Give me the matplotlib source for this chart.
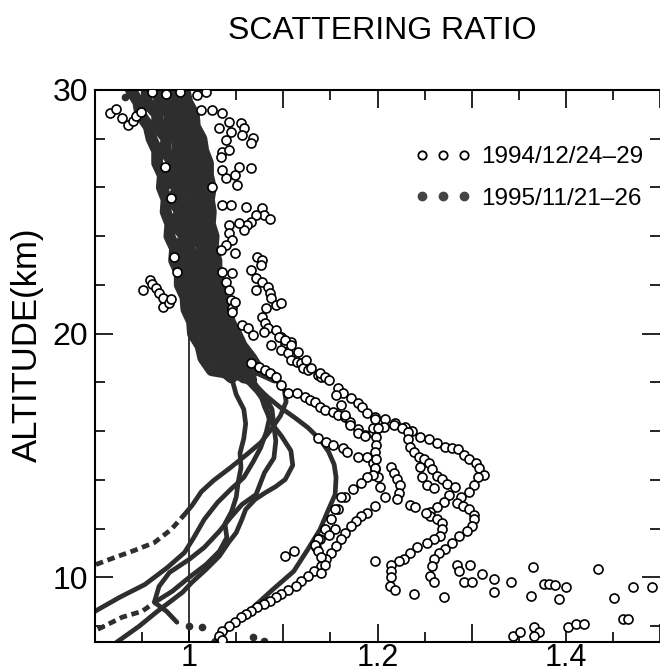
import numpy as np
import matplotlib
matplotlib.use('Agg')
import matplotlib.pyplot as plt
from matplotlib.lines import Line2D
from matplotlib.ticker import MultipleLocator, FuncFormatter

plt.rcParams['font.family'] = ['Liberation Sans', 'DejaVu Sans']

# ---- 1995/11/21-26 (filled dots): lower part of each night, (scattering ratio, km)
p1 = [(0.901, 10.53), (0.921, 10.82), (0.942, 11.11), (0.963, 11.43), (0.981, 11.97),
      (0.995, 12.58), (1.003, 12.95), (1.013, 13.52), (1.026, 13.98), (1.044, 14.51),
      (1.061, 15.04), (1.076, 15.53), (1.087, 16.07), (1.097, 16.64), (1.103, 17.21),
      (1.101, 17.70), (1.091, 18.20)]
p2 = [(0.900, 8.61), (0.926, 9.18), (0.953, 9.71), (0.977, 10.41), (0.995, 11.02),
      (1.005, 11.64), (1.016, 12.38), (1.030, 13.07), (1.044, 13.61), (1.058, 14.10),
      (1.068, 14.75), (1.076, 15.33), (1.082, 15.98), (1.085, 16.48), (1.082, 17.09),
      (1.072, 17.62), (1.058, 18.20)]
p3 = [(0.903, 7.87), (0.929, 8.37), (0.950, 8.61), (0.965, 9.02), (0.982, 9.43),
      (1.000, 10.00), (1.018, 10.53), (1.032, 11.07), (1.040, 11.64), (1.038, 12.20),
      (1.045, 12.70), (1.050, 13.30), (1.052, 13.90), (1.055, 14.50), (1.054, 15.10),
      (1.058, 15.70), (1.060, 16.30), (1.058, 16.90), (1.050, 17.50), (1.045, 18.20)]
p4 = [(0.923, 7.34), (0.947, 8.00), (0.965, 8.57), (0.979, 8.98), (0.993, 9.39),
      (1.003, 9.80), (1.018, 10.33), (1.032, 10.87), (1.042, 11.44), (1.050, 11.84),
      (1.056, 12.38), (1.060, 12.79), (1.070, 13.20), (1.081, 13.48), (1.092, 13.73),
      (1.102, 14.02), (1.110, 14.60), (1.108, 15.20), (1.098, 15.80), (1.088, 16.30),
      (1.080, 17.00), (1.075, 17.60), (1.065, 18.30)]
p5 = [(0.987, 8.16), (0.976, 8.61), (0.963, 8.98), (0.968, 9.63), (0.979, 10.20),
      (1.000, 10.74), (1.016, 11.23), (1.032, 11.89), (1.044, 12.46), (1.056, 12.99),
      (1.071, 13.40), (1.080, 14.30), (1.090, 14.90), (1.092, 15.60), (1.090, 16.20),
      (1.088, 16.90), (1.080, 17.50), (1.066, 18.10)]
p6 = [(1.026, 7.38), (1.047, 8.07), (1.068, 8.77), (1.089, 9.51), (1.111, 10.25),
      (1.126, 11.15), (1.139, 11.97), (1.147, 12.70), (1.155, 13.40), (1.156, 14.10),
      (1.154, 14.63), (1.148, 15.16), (1.139, 15.66), (1.126, 16.15), (1.112, 16.56),
      (1.097, 16.97), (1.084, 17.38), (1.072, 17.79), (1.058, 18.28)]

# upper part of each night (18.5-30 km), where the six nights merge in one band
band_alt = [18.5, 19.0, 19.5, 20.0, 20.5, 21.0, 21.5, 22.0, 22.5, 23.0, 23.5, 24.0,
            24.5, 25.0, 25.5, 26.0, 26.5, 27.0, 27.5, 28.0, 28.5, 29.0, 29.5, 30.0]
b1 = [1.024, 1.015, 1.012, 1.004, 1.003, 0.997, 0.996, 0.990, 0.990, 0.984, 0.985, 0.979,
      0.980, 0.975, 0.976, 0.971, 0.972, 0.966, 0.966, 0.960, 0.957, 0.948, 0.946, 0.938]
b2 = [1.036, 1.030, 1.018, 1.018, 1.008, 1.011, 1.000, 1.003, 0.994, 0.997, 0.990, 0.995,
      0.985, 0.990, 0.983, 0.988, 0.980, 0.983, 0.974, 0.976, 0.966, 0.966, 0.955, 0.955]
b3 = [1.044, 1.042, 1.030, 1.028, 1.020, 1.020, 1.012, 1.013, 1.006, 1.008, 1.000, 1.004,
      0.997, 1.000, 0.995, 0.999, 0.992, 0.995, 0.987, 0.988, 0.978, 0.979, 0.968, 0.968]
b4 = [1.055, 1.050, 1.042, 1.036, 1.033, 1.026, 1.025, 1.019, 1.019, 1.013, 1.014, 1.010,
      1.009, 1.006, 1.008, 1.004, 1.005, 1.000, 1.000, 0.993, 0.992, 0.985, 0.982, 0.975]
b5 = [1.068, 1.056, 1.052, 1.042, 1.040, 1.032, 1.033, 1.025, 1.027, 1.021, 1.023, 1.018,
      1.019, 1.014, 1.018, 1.013, 1.015, 1.010, 1.010, 1.003, 1.003, 0.995, 0.994, 0.985]
b6 = [1.074, 1.066, 1.056, 1.050, 1.043, 1.041, 1.035, 1.034, 1.029, 1.029, 1.025, 1.026,
      1.022, 1.023, 1.021, 1.023, 1.020, 1.020, 1.015, 1.013, 1.006, 1.005, 0.998, 0.995]

lower_95 = [p1, p2, p3, p4, p5, p6]
band_95 = [b6, b4, b2, b5, b3, b1]
dash_below = [12.7, 0, 9.2, 0, 0, 0]   # km below which the trace is broken

f95_single = [(0.932, 29.70), (0.962, 27.80), (0.979, 26.10), (1.000, 7.99),
              (1.014, 7.95), (1.068, 7.54), (1.079, 7.38)]

# ---- 1994/12/24-29 (open circles), (scattering ratio, km)
o_top_left = [(0.916, 29.06), (0.922, 29.22), (0.929, 28.85), (0.935, 28.57),
              (0.940, 28.73), (0.944, 28.93), (0.949, 29.10)]
o_left_21 = [(0.951, 21.80), (0.958, 22.21), (0.961, 22.05), (0.965, 21.89), (0.968, 21.68),
             (0.972, 21.48), (0.972, 21.11), (0.979, 21.27), (0.981, 21.43)]
o_upper = [(0.960, 29.92), (0.975, 29.85), (0.990, 29.90),
           (1.008, 29.80), (1.018, 29.92), (1.013, 29.18), (1.024, 29.18), (1.035, 29.06),
           (1.042, 28.69), (1.055, 28.65), (1.058, 28.44), (1.032, 28.44), (1.044, 28.28),
           (1.068, 28.03), (1.066, 27.83), (1.039, 27.95), (1.056, 28.16), (1.035, 27.46),
           (1.042, 27.54), (1.034, 27.25), (1.053, 26.84), (1.066, 26.80), (1.049, 26.52),
           (1.051, 26.11), (1.039, 26.39), (1.035, 26.72), (1.024, 26.02), (1.035, 25.29),
           (1.044, 25.29), (1.060, 25.20), (1.077, 25.16), (1.079, 24.88), (1.086, 24.71),
           (1.071, 24.88), (1.066, 24.59), (1.061, 24.47), (1.058, 24.26), (1.053, 24.55),
           (1.042, 24.47), (1.042, 24.14), (1.045, 23.85), (1.039, 23.65), (1.034, 23.44),
           (1.049, 23.32), (1.035, 22.54), (1.045, 22.50), (1.039, 22.13), (1.042, 21.80),
           (1.044, 21.39), (1.045, 21.07), (1.049, 21.31), (1.045, 20.90), (1.056, 20.37),
           (1.063, 20.25), (1.066, 22.62), (1.072, 23.16), (1.077, 23.03), (1.076, 22.83),
           (1.071, 22.30), (1.071, 21.80), (1.077, 22.13), (1.084, 21.93), (1.086, 21.68),
           (1.087, 21.48), (1.092, 21.19), (1.098, 21.27), (1.082, 21.07), (1.077, 20.70),
           (1.081, 20.45), (1.084, 20.25), (1.092, 20.16), (1.098, 19.88), (1.102, 19.63),
           (1.108, 19.67), (1.098, 19.34), (1.105, 19.22), (1.108, 18.93), (1.114, 18.85),
           (1.119, 18.81), (1.121, 18.61), (1.126, 18.52), (1.137, 18.32), (1.140, 18.24),
           (0.974, 26.84), (0.981, 25.57), (0.984, 23.16), (0.987, 22.54)]
o_chain1 = [(1.068, 19.96), (1.079, 20.08), (1.087, 19.55), (1.095, 19.88), (1.102, 19.75),
            (1.108, 19.55), (1.116, 19.26), (1.124, 18.93), (1.129, 18.61), (1.139, 18.40),
            (1.144, 18.24), (1.149, 18.11), (1.158, 17.79), (1.163, 17.58), (1.172, 17.38),
            (1.179, 17.17), (1.184, 17.00), (1.189, 16.76), (1.197, 16.60), (1.208, 16.48),
            (1.219, 16.35), (1.229, 16.19), (1.237, 16.02), (1.245, 15.78), (1.255, 15.66),
            (1.263, 15.53), (1.272, 15.37), (1.279, 15.29), (1.286, 15.25), (1.292, 15.04),
            (1.297, 14.84), (1.305, 14.71), (1.308, 14.51), (1.313, 14.22), (1.307, 14.10),
            (1.303, 13.81), (1.297, 13.52), (1.289, 13.28), (1.284, 13.07), (1.291, 12.95),
            (1.297, 12.79), (1.302, 12.58), (1.303, 12.38), (1.300, 12.09), (1.295, 11.89),
            (1.287, 11.68), (1.279, 11.43), (1.272, 11.15), (1.265, 11.02), (1.260, 10.74),
            (1.258, 10.45), (1.256, 10.04), (1.260, 9.80)]
o_chain2 = [(1.066, 18.81), (1.074, 18.65), (1.081, 18.52), (1.086, 18.40), (1.092, 18.24),
            (1.098, 17.91), (1.105, 17.58), (1.114, 17.58), (1.123, 17.42), (1.128, 17.30),
            (1.134, 17.21), (1.139, 17.00), (1.144, 16.89), (1.153, 16.80), (1.158, 16.68),
            (1.165, 16.60), (1.171, 16.39), (1.179, 16.07), (1.187, 15.86), (1.195, 15.98),
            (1.200, 16.15), (1.207, 16.19), (1.218, 16.27), (1.226, 16.15), (1.232, 15.98),
            (1.232, 15.66), (1.234, 15.37), (1.239, 15.16), (1.244, 14.96), (1.249, 14.84),
            (1.255, 14.71), (1.258, 14.43), (1.263, 14.18), (1.268, 14.02), (1.274, 13.85),
            (1.282, 13.69), (1.276, 13.40), (1.271, 13.11), (1.263, 12.87), (1.256, 12.70),
            (1.256, 12.50), (1.263, 12.38), (1.268, 12.25), (1.268, 11.97), (1.266, 11.68),
            (1.260, 11.56), (1.253, 11.43), (1.242, 11.23), (1.234, 11.02), (1.228, 10.74),
            (1.223, 10.66), (1.214, 10.53), (1.214, 10.25), (1.214, 10.00), (1.213, 9.63),
            (1.219, 9.47)]
o_chain3 = [(1.137, 15.74), (1.145, 15.57), (1.153, 15.45), (1.163, 15.33), (1.168, 15.16),
            (1.179, 14.96), (1.189, 14.96), (1.195, 14.71), (1.197, 14.43), (1.200, 14.10),
            (1.203, 13.73), (1.208, 13.32), (1.197, 12.91), (1.189, 12.66), (1.182, 12.50),
            (1.177, 12.30), (1.172, 12.09), (1.166, 11.84), (1.161, 11.56), (1.156, 11.27),
            (1.151, 11.02), (1.145, 10.74), (1.140, 10.45), (1.133, 10.25), (1.126, 10.04),
            (1.119, 9.84), (1.113, 9.63), (1.105, 9.47), (1.098, 9.30), (1.092, 9.18),
            (1.086, 9.02), (1.079, 8.89), (1.072, 8.77), (1.066, 8.61), (1.060, 8.48),
            (1.055, 8.36), (1.049, 8.16), (1.042, 7.99), (1.035, 7.79), (1.032, 7.58),
            (1.035, 7.42)]
o_chain4 = [(1.156, 17.50), (1.161, 17.09), (1.166, 16.68), (1.171, 16.27), (1.179, 15.94),
            (1.187, 15.82), (1.195, 16.15), (1.197, 16.48), (1.200, 16.15), (1.198, 15.78),
            (1.198, 15.45), (1.197, 15.16), (1.198, 14.84), (1.197, 14.51), (1.195, 14.22),
            (1.189, 14.10), (1.182, 13.89), (1.174, 13.61), (1.165, 13.32), (1.158, 12.79),
            (1.151, 12.38), (1.144, 11.97), (1.139, 11.56), (1.135, 11.23)]
o_chain5 = [(1.214, 14.55), (1.218, 14.30), (1.221, 14.02), (1.224, 13.81), (1.223, 13.48),
            (1.221, 13.20), (1.245, 14.55), (1.247, 14.10), (1.253, 13.81), (1.260, 13.65),
            (1.234, 12.99), (1.240, 12.87), (1.251, 12.66)]
o_chain7 = [(1.161, 13.28), (1.155, 12.79), (1.155, 11.97), (1.149, 11.76), (1.137, 11.56),
            (1.134, 11.35), (1.137, 11.07), (1.140, 10.82), (1.144, 10.53), (1.140, 10.20)]
o_low = [(1.284, 10.53), (1.287, 10.25), (1.298, 10.53), (1.292, 9.80), (1.300, 9.80),
         (1.311, 10.12), (1.324, 9.92), (1.324, 9.39), (1.342, 9.80), (1.365, 10.41),
         (1.363, 9.22), (1.377, 9.71), (1.382, 9.71), (1.389, 9.67), (1.400, 9.59),
         (1.393, 9.10), (1.434, 10.33), (1.451, 9.14), (1.471, 9.59), (1.492, 9.59),
         (1.461, 8.28), (1.466, 8.28), (1.344, 7.58), (1.351, 7.75), (1.366, 7.95),
         (1.372, 7.75), (1.366, 7.58), (1.402, 7.95), (1.411, 8.07), (1.419, 8.07),
         (1.239, 9.30), (1.271, 9.18), (1.197, 10.66), (1.102, 10.86), (1.111, 11.07)]

open_94 = [o_top_left, o_left_21, o_upper, o_chain1, o_chain2, o_chain3,
           o_chain4, o_chain5, o_chain7, o_low]

dark = '#2e2e2e'

fig = plt.figure(figsize=(6.6, 6.72), dpi=100)
ax = fig.add_axes([95 / 660, 30 / 672, 565 / 660, 552 / 672])

ax.axvline(1.0, color='black', lw=1.1, zorder=1)

for low, band, cut in zip(lower_95, band_95, dash_below):
    x, y = np.array(low).T
    k = int(np.sum(y <= cut))
    if k > 1:
        ax.plot(x[:k], y[:k], color=dark, lw=3.4, ls=(0, (1.6, 1.0)), zorder=2)
    ax.plot(x[max(k - 1, 0):], y[max(k - 1, 0):], color=dark, lw=3.4,
            solid_capstyle='round', solid_joinstyle='round', zorder=2)
    bx = np.concatenate([[x[-1]], band])
    by = np.concatenate([[y[-1]], band_alt])
    ax.plot(bx, by, color=dark, lw=8.5, solid_capstyle='round',
            solid_joinstyle='round', zorder=2)

fx, fy = np.array(f95_single).T
ax.plot(fx, fy, 'o', color=dark, ms=4.5, zorder=2)

for pts in open_94:
    ox, oy = np.array(pts).T
    ax.plot(ox, oy, 'o', ls='none', ms=6.5, mfc='white', mec='black', mew=1.2,
            zorder=3, clip_on=True)

ax.set_xlim(0.9, 1.5)
ax.set_ylim(7.35, 30)

ax.xaxis.set_major_locator(MultipleLocator(0.1))
ax.xaxis.set_minor_locator(MultipleLocator(0.05))
ax.yaxis.set_major_locator(MultipleLocator(10))
ax.yaxis.set_minor_locator(MultipleLocator(2))


def xfmt(v, pos):
    for lab in (1.0, 1.2, 1.4):
        if abs(v - lab) < 1e-6:
            return '1' if lab == 1.0 else '%.1f' % lab
    return ''


ax.xaxis.set_major_formatter(FuncFormatter(xfmt))
ax.yaxis.set_major_formatter(FuncFormatter(lambda v, p: '%d' % v))

ax.tick_params(which='both', direction='in', top=True, right=True, width=1.2)
ax.tick_params(which='major', length=13)
ax.tick_params(which='minor', length=7)
ax.tick_params(axis='y', pad=5, labelsize=23)
ax.tick_params(axis='x', pad=1, labelsize=22)

for side in ('left', 'bottom', 'top'):
    ax.spines[side].set_linewidth(1.5)
ax.spines['right'].set_visible(False)

h94 = Line2D([], [], ls='none', marker='o', ms=6, mfc='white', mec='black', mew=1.3)
h95 = Line2D([], [], ls='none', marker='o', ms=6, mfc='#444444', mec='#444444')
ax.legend([h94, h95], ['1994/12/24–29', '1995/11/21–26'], numpoints=3,
          loc='upper left', bbox_to_anchor=(0.545, 0.92), frameon=False,
          fontsize=17.5, handlelength=2.3, handletextpad=0.4, borderpad=0,
          labelspacing=0.8)

fig.text(0.579, 1 - 31 / 672, 'SCATTERING RATIO', ha='center', va='center',
         fontsize=23)
fig.text(27 / 660, 1 - 345 / 672, 'ALTITUDE(km)', ha='center', va='center',
         rotation=90, fontsize=25)

fig.savefig('out.png', dpi=100)
